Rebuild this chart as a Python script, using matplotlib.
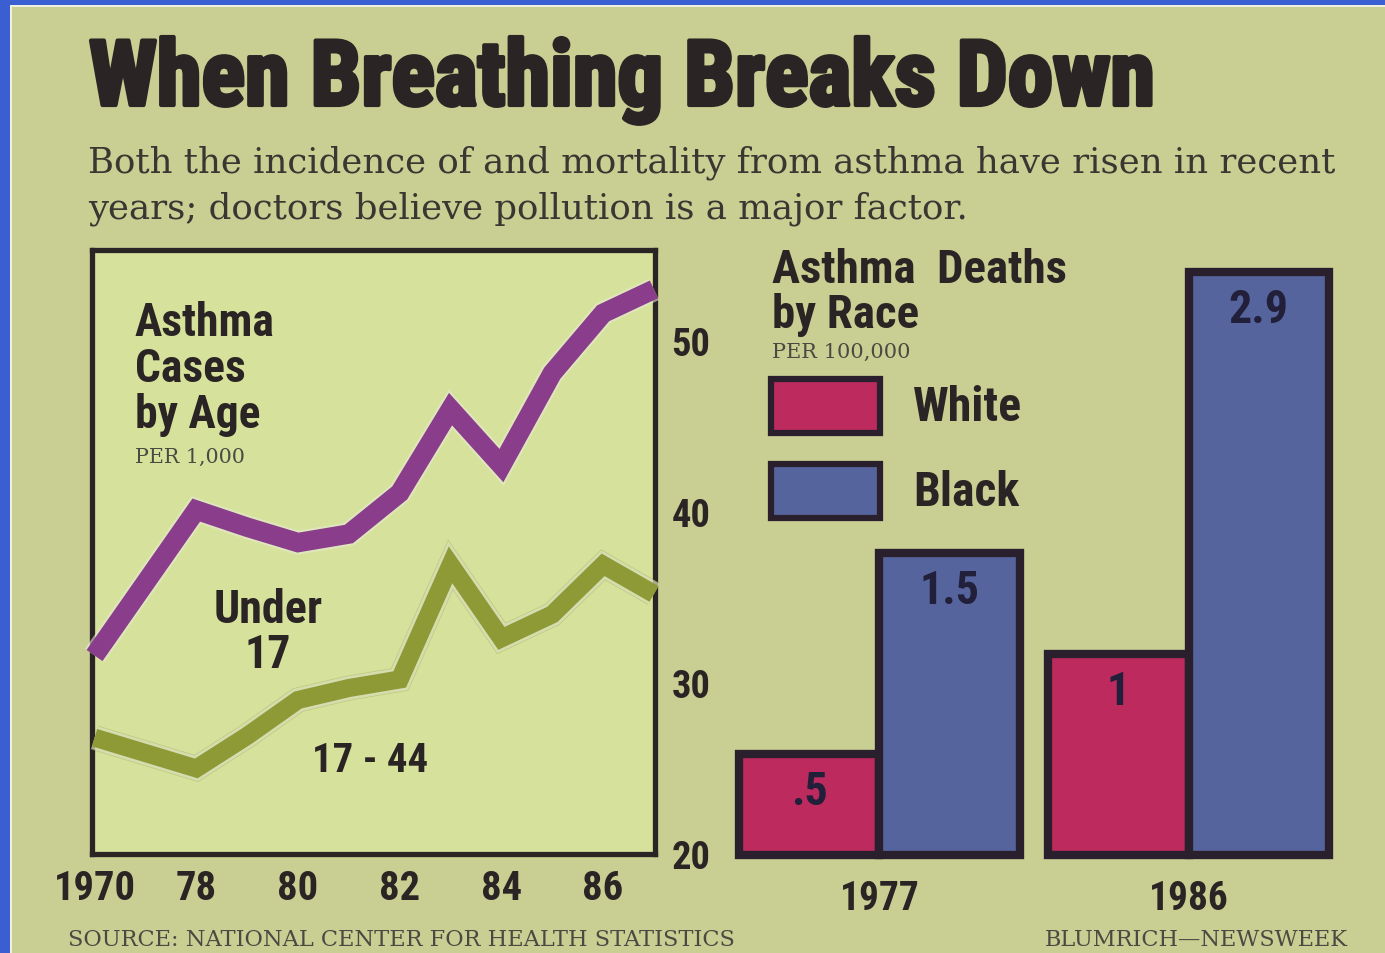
import matplotlib
matplotlib.use('Agg')
import matplotlib.pyplot as plt
import matplotlib.patheffects as pe
from matplotlib import font_manager as fm
from matplotlib.font_manager import FontProperties
from matplotlib.patches import Rectangle
from matplotlib.textpath import TextToPath
from matplotlib.transforms import Affine2D

W, H = 1385, 954

# asthma cases per 1,000 -- 1970, then yearly from 1978
years = [1970, 1978, 1979, 1980, 1981, 1982, 1983, 1984, 1985, 1986, 1987]
x_pos = [0, 2, 3, 4, 5, 6, 7, 8, 9, 10, 11]
under_17 = [31.6, 40.1, 39.1, 38.2, 38.7, 41.1, 46.0, 42.7, 48.1, 51.6, 53.0]
age_17_44 = [26.8, 25.0, 26.9, 29.0, 29.7, 30.2, 36.9, 32.6, 34.0, 36.9, 35.2]
tick_pos = [0, 2, 4, 6, 8, 10]
tick_labels = ['1970', '78', '80', '82', '84', '86']
y_ticks = [20, 30, 40, 50]

# asthma deaths per 100,000
death_years = ['1977', '1986']
white = [0.5, 1.0]
black = [1.5, 2.9]
white_x = [0, 2.2]
black_x = [1, 3.2]

BLUE_FRAME = '#3a5fd0'
PAGE = '#c9cf93'
BOX = '#d6e29c'
INK = '#2a2424'
GREY_INK = '#4a4a42'
PURPLE = '#8a3d8a'
OLIVE = '#8e9a36'
PINK = '#bd2b5e'
SLATE = '#56649e'
EDGE = '#2a1f2c'


def narrow_font():
    # prefer a real narrow/condensed sans for the headline type
    fonts = fm.fontManager.ttflist
    for name in ['Liberation Sans Narrow', 'Roboto Condensed', 'Open Sans Condensed',
                 'Noto Sans Condensed', 'Arial Narrow']:
        if any(f.name == name for f in fonts):
            return name, 'normal'
    for name in ['Noto Sans', 'DejaVu Sans', 'Roboto', 'Open Sans']:
        if any(f.name == name and 'condensed' in str(f.stretch) for f in fonts):
            return name, 'condensed'
    return 'Liberation Sans', 'normal'


NARROW, STRETCH = narrow_font()
HEAD = dict(family=NARROW, stretch=STRETCH, weight='bold')
SERIF = dict(family='DejaVu Serif')

_t2p = TextToPath()


def size_for(s, width_px, style):
    # font size (pt) that makes s about width_px wide at 100 dpi
    w, _, _ = _t2p.get_text_width_height_descent(s, FontProperties(size=100, **style), ismath=False)
    return 72 * width_px / w


def short(v):
    s = '{:g}'.format(v)
    return s[1:] if s.startswith('0.') else s


def box(x0, y0, x1, y1):
    # pixel box (top-left origin) -> figure fraction rect
    return [x0 / W, 1 - y1 / H, (x1 - x0) / W, (y1 - y0) / H]


fig = plt.figure(figsize=(W / 100, H / 100), dpi=100, facecolor=BLUE_FRAME)
pix = Affine2D().scale(1 / W, -1 / H).translate(0, 1) + fig.transFigure


def label(x, y, s, size, style, color=INK, **kw):
    return fig.text(x, y, s, transform=pix, fontsize=size, color=color,
                    va='baseline', **style, **kw)


# page with a thin white rule inside the blue frame
fig.add_artist(Rectangle((10, 6), W, H, transform=pix, facecolor='#eef0e0',
                         edgecolor='none', zorder=-3))
fig.add_artist(Rectangle((12, 8), W, H, transform=pix, facecolor=PAGE,
                         edgecolor='none', zorder=-2))

title = 'When Breathing Breaks Down'
label(89, 106, title, size_for(title, 1066, HEAD), HEAD,
      path_effects=[pe.withStroke(linewidth=3, foreground=INK)])
sub1 = 'Both the incidence of and mortality from asthma have risen in recent'
sub_size = size_for(sub1, 1249, SERIF)
label(88, 172, sub1, sub_size, SERIF, color='#3a3632')
label(88, 218, 'years; doctors believe pollution is a major factor.', sub_size, SERIF,
      color='#3a3632')

# --- line chart ---
ax = fig.add_axes(box(92, 251, 655, 855))
ax.set_facecolor(BOX)
ax.set_xlim(-0.05, 11.02)
ax.set_ylim(20, 55.3)
for s in ax.spines.values():
    s.set_linewidth(3.8)
    s.set_color(INK)
halo = [pe.Stroke(linewidth=17, foreground='#e6ead2', alpha=0.6), pe.Normal()]
ax.plot(x_pos, age_17_44, color=OLIVE, lw=18, alpha=0.35, solid_joinstyle='miter',
        solid_capstyle='butt', clip_on=False, zorder=3)
ax.plot(x_pos, age_17_44, color=OLIVE, lw=13, solid_joinstyle='miter',
        solid_capstyle='butt', clip_on=False, zorder=3.1, path_effects=halo)
ax.plot(x_pos, under_17, color=PURPLE, lw=14, solid_joinstyle='miter',
        solid_capstyle='butt', clip_on=False, zorder=3.2, path_effects=halo)
ax.set_xticks(tick_pos, tick_labels)
ax.yaxis.tick_right()
ax.set_yticks(y_ticks, [str(v) for v in y_ticks])
ax.tick_params(length=0, labelcolor=INK)
ax.tick_params(axis='x', pad=11, labelsize=size_for('1970', 82, HEAD))
ax.tick_params(axis='y', pad=12, labelsize=size_for('50', 39, HEAD))
for lab in ax.get_xticklabels() + ax.get_yticklabels():
    lab.set_family(NARROW)
    lab.set_stretch(STRETCH)
    lab.set_fontweight('bold')

head_size = size_for('Asthma', 140, HEAD)
for i, line in enumerate(['Asthma', 'Cases', 'by Age']):
    label(135, 336 + 46 * i, line, head_size, HEAD)
label(135, 463, 'PER 1,000', size_for('PER 1,000', 110, SERIF), SERIF, color=GREY_INK)
tag_size = size_for('Under', 109, HEAD)
label(268, 623, 'Under', tag_size, HEAD, ha='center')
label(268, 668, '17', tag_size, HEAD, ha='center')
label(370, 772, '17 - 44', size_for('17 - 44', 116, HEAD), HEAD, ha='center')

# --- bar chart ---
bx = fig.add_axes(box(739, 256, 1329, 856))
bx.set_xlim(-0.5, 3.7)
bx.set_ylim(0, 2.985)
bx.axis('off')
bx.patch.set_alpha(0)
wb = bx.bar(white_x, white, width=1, color=PINK, edgecolor=EDGE, linewidth=6,
            clip_on=False, zorder=2)
kb = bx.bar(black_x, black, width=1, color=SLATE, edgecolor=EDGE, linewidth=6,
            clip_on=False, zorder=2)
val_size = size_for('2.9', 60, HEAD)
for bars, vals in ((wb, white), (kb, black)):
    for rect, v in zip(bars, vals):
        bx.annotate(short(v), (rect.get_x() + rect.get_width() / 2, v),
                    xytext=(0, -50), textcoords='offset pixels', ha='center',
                    va='baseline', fontsize=val_size, color='#221f3a', zorder=4, **HEAD)
year_size = size_for('1977', 80, HEAD)
for wx, kx, yr in zip(white_x, black_x, death_years):
    bx.annotate(yr, ((wx + kx) / 2, 0), xytext=(0, -54), textcoords='offset pixels',
                ha='center', va='baseline', fontsize=year_size, color=INK,
                annotation_clip=False, **HEAD)

race_size = size_for('Asthma  Deaths', 295, HEAD)
label(772, 283, 'Asthma  Deaths', race_size, HEAD)
label(772, 328, 'by Race', race_size, HEAD)
label(772, 358, 'PER 100,000', size_for('PER 100,000', 138, SERIF), SERIF, color=GREY_INK)
key_size = size_for('White', 109, HEAD)
for y0, col, name in ((380, PINK, 'White'), (465, SLATE, 'Black')):
    fig.add_artist(Rectangle((771, y0), 109, 54, transform=pix, facecolor=col,
                             edgecolor=EDGE, linewidth=4.5))
    label(913, y0 + 41, name, key_size, HEAD)

src = 'SOURCE: NATIONAL CENTER FOR HEALTH STATISTICS'
label(68, 946, src, size_for(src, 667, SERIF), SERIF, color=GREY_INK)
credit = 'BLUMRICH\u2014NEWSWEEK'
label(1348, 946, credit, size_for(credit, 303, SERIF), SERIF, color=GREY_INK, ha='right')

fig.savefig('out.png', dpi=100, facecolor=BLUE_FRAME)
